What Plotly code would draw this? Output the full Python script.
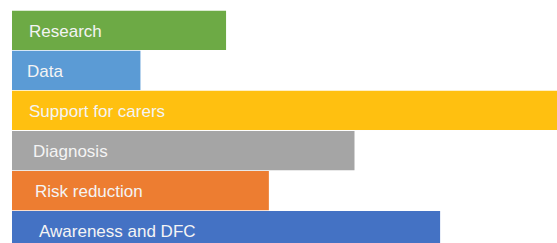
import plotly.graph_objects as go

categories = ["Research", "Data", "Support for carers", "Diagnosis", "Risk reduction", "Awareness and DFC"]
values = [5, 3, 14, 8, 6, 10]
colors = ["#6DAA45", "#5B9BD5", "#FFC010", "#A5A5A5", "#ED7D31", "#4472C4"]
label_shift = [15, 13, 15, 19, 21, 25]

fig = go.Figure(go.Bar(
    y=categories, x=values, orientation="h",
    marker=dict(color=colors, line=dict(width=0)),
    width=0.98, hoverinfo="skip",
))

for cat, shift in zip(categories, label_shift):
    fig.add_annotation(x=0, y=cat, xref="x", yref="y", text=cat, showarrow=False,
                       xanchor="left", yanchor="middle", xshift=shift, yshift=-1,
                       font=dict(family="Liberation Sans, Arial, sans-serif", size=17, color="#F4F4F4"))

fig.update_layout(
    width=557, height=243,
    margin=dict(l=12, r=0, t=0, b=0),
    paper_bgcolor="white", plot_bgcolor="white",
    showlegend=False,
    xaxis=dict(range=[0, 12.73], visible=False, fixedrange=True),
    yaxis=dict(range=[5.31, -0.76], visible=False, fixedrange=True, type="category",
               categoryorder="array", categoryarray=categories),
)

fig.write_html("out.html", config={"displayModeBar": False},
               post_script="document.body.style.margin='0';document.body.style.overflow='hidden';")
